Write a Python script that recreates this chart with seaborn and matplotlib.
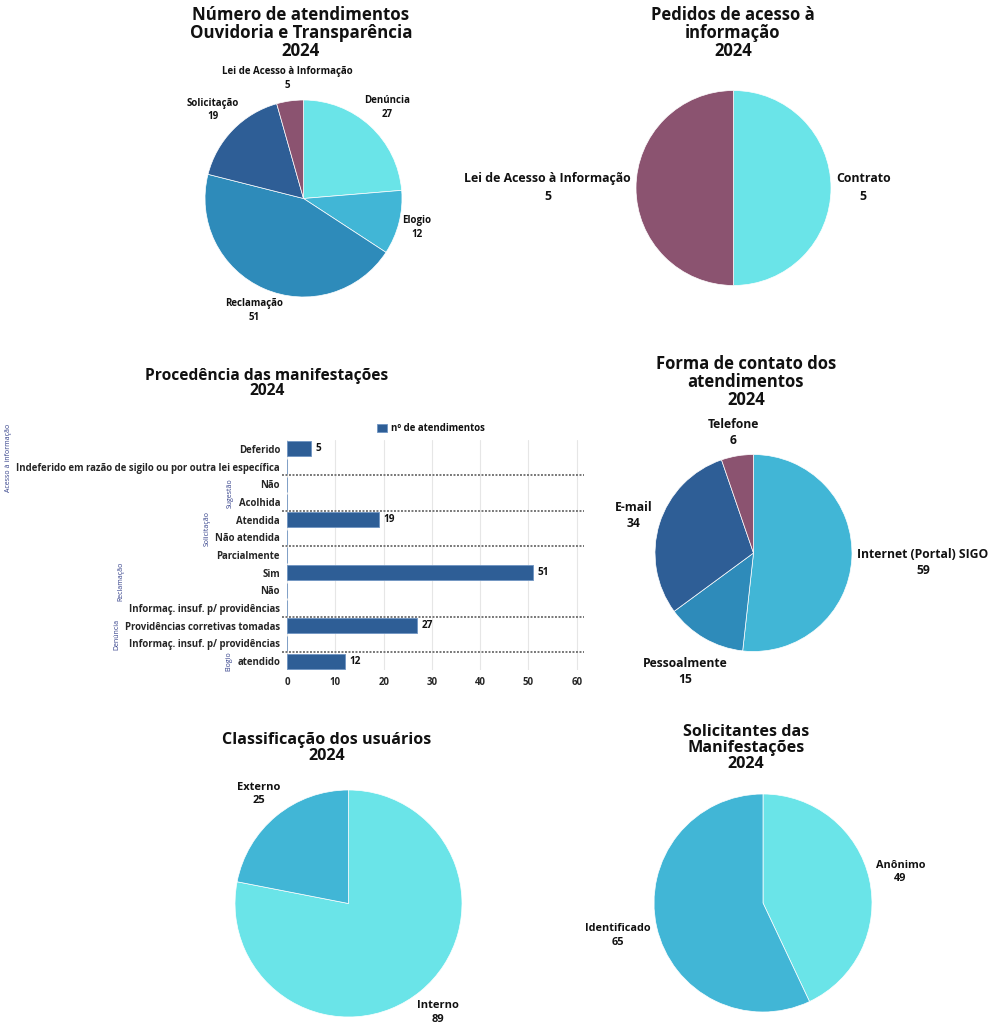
#!/usr/bin/env python3
import numpy as np
import pandas as pd
import matplotlib
matplotlib.use("Agg")
import matplotlib.pyplot as plt
import matplotlib.transforms as mtransforms
import seaborn as sns

W, H = 992, 1024

# --- dados ---
tipo_labels = ["Denúncia", "Elogio", "Reclamação", "Solicitação", "Lei de Acesso à Informação"]
tipo_vals = [27, 12, 51, 19, 5]

pedidos_labels = ["Contrato", "Lei de Acesso à Informação"]
pedidos_vals = [5, 5]

contato_labels = ["Internet (Portal) SIGO", "Pessoalmente", "E-mail", "Telefone"]
contato_vals = [59, 15, 34, 6]

usuarios_labels = ["Interno", "Externo"]
usuarios_vals = [89, 25]

solic_labels = ["Anônimo", "Identificado"]
solic_vals = [49, 65]

proc_grupos = (["Acesso à informação"] * 2 + ["Sugestão"] * 2 + ["Solicitação"] * 2
               + ["Reclamação"] * 4 + ["Denúncia"] * 2 + ["Elogio"])
proc_itens = ["Deferido", "Indeferido em razão de sigilo ou por outra lei específica",
              "Não", "Acolhida", "Atendida", "Não atendida", "Parcialmente", "Sim", "Não",
              "Informaç. insuf. p/ providências", "Providências corretivas tomadas",
              "Informaç. insuf. p/ providências", "atendido"]
proc_vals = [5, 0, 0, 0, 19, 0, 0, 51, 0, 0, 27, 0, 12]

CYAN = "#6ae4e8"
LBLUE = "#41b6d6"
MBLUE = "#2e8bba"
DBLUE = "#2e5e96"
PURPLE = "#8b5370"
GRP = "#33408a"

sns.set_style("white")
plt.rcParams["font.family"] = ["Open Sans", "DejaVu Sans"]
plt.rcParams["text.color"] = "#111111"

fig = plt.figure(figsize=(W / 100, H / 100), dpi=100)


def px_axes(left, top, width, height):
    return fig.add_axes([left / W, 1 - (top + height) / H, width / W, height / H])


def title(x, y, txt, fs=12.0):
    fig.text(x / W, 1 - y / H, txt, ha="center", va="center", multialignment="center",
             fontsize=fs, fontweight="bold", linespacing=0.97)


pies = []


def pie(cx, cy, R, vals, labels, colors, fs, ls=1.4, gap=5):
    ax = px_axes(cx - 2 * R, cy - 2 * R, 4 * R, 4 * R)
    ax.set_facecolor("none")
    wedges, _ = ax.pie(vals, colors=colors, startangle=90, counterclock=False,
                       wedgeprops=dict(edgecolor="white", linewidth=0.5))
    ax.set_xlim(-2, 2)
    ax.set_ylim(-2, 2)
    ax.axis("off")
    texts = [ax.text(0, 0, f"{l}\n{v}", ha="center", va="center", multialignment="center",
                     fontsize=fs, fontweight="bold", linespacing=ls)
             for l, v in zip(labels, vals)]
    pies.append((R, gap, wedges, texts))


pie(303.5, 198.5, 98.5, tipo_vals, tipo_labels, [CYAN, LBLUE, MBLUE, DBLUE, PURPLE], 7.0, 1.35, 1)
title(301, 33, "Número de atendimentos\nOuvidoria e Transparência\n2024", 12.2)

pie(733.5, 188, 97.5, pedidos_vals, pedidos_labels, [CYAN, PURPLE], 8.9, 1.5)
title(733, 33, "Pedidos de acesso à\ninformação\n2024", 12.0)

pie(753.5, 553, 98.5, contato_vals, contato_labels, [LBLUE, MBLUE, DBLUE, PURPLE], 8.7, 1.3)
title(746, 382, "Forma de contato dos\natendimentos\n2024", 12.0)

pie(348.5, 903.5, 113.5, usuarios_vals, usuarios_labels, [CYAN, LBLUE], 8.0, 1.3)
title(327, 748, "Classificação dos usuários\n2024", 11.6)

pie(763, 903, 109, solic_vals, solic_labels, [CYAN, LBLUE], 7.8, 1.3)
title(746, 748, "Solicitantes das\nManifestações\n2024", 11.6)

# --- barras ---
title(267, 383.5, "Procedência das manifestações\n2024", 11.2)
df = pd.DataFrame({"chave": [f"{g}: {i}" for g, i in zip(proc_grupos, proc_itens)],
                   "valor": proc_vals})
bx = px_axes(287, 440, 297, 230)
sns.barplot(data=df, x="valor", y="chave", orient="h", color=DBLUE, saturation=1,
            width=0.86, edgecolor="#6f94c2", linewidth=0.6, label="nº de atendimentos", ax=bx)
bx.set_xlim(0, 61.5)
bx.set_ylim(len(proc_itens) - 0.5, -0.5)
bx.set_xticks(range(0, 61, 10))
bx.set_yticks(range(len(proc_itens)))
bx.set_yticklabels(proc_itens)
bx.set(xlabel="", ylabel="")
bx.tick_params(length=0, labelsize=6.9, pad=5)
for lab in bx.get_xticklabels() + bx.get_yticklabels():
    lab.set_fontweight("bold")
bx.xaxis.grid(True, color="#e6e6e6", linewidth=0.8)
bx.set_axisbelow(True)
sns.despine(ax=bx, left=True, bottom=True)
for c in bx.containers:
    bx.bar_label(c, labels=[f"{p.get_width():.0f}" if p.get_width() > 0 else "" for p in c],
                 padding=3, fontsize=7.2, fontweight="bold")
bx.legend(loc="lower center", bbox_to_anchor=(0.485, 1.0), frameon=False,
          handlelength=1.0, handleheight=1.0, handletextpad=0.5, borderaxespad=0.2,
          prop={"size": 6.9, "weight": "bold"})

# separadores de grupo
grupos = []
for i, g in enumerate(proc_grupos):
    if not grupos or grupos[-1][0] != g:
        grupos.append([g, i, i])
    else:
        grupos[-1][2] = i
for g, a, b in grupos[1:]:
    bx.axhline(a - 0.5, xmin=-0.017, xmax=1.0, color="#777777", linewidth=1.4,
               linestyle=(0, (1, 0.8)), clip_on=False)

# --- posicionar rótulos ---
fig.canvas.draw()
rend = fig.canvas.get_renderer()
for R, gap, wedges, texts in pies:
    for w, t in zip(wedges, texts):
        ang = np.deg2rad((w.theta1 + w.theta2) / 2)
        dx, dy = np.cos(ang), np.sin(ang)
        bb = t.get_window_extent(rend)
        d = R + gap + bb.width / 2 * abs(dx) + bb.height / 2 * abs(dy)
        t.set_position((d * dx / R, d * dy / R))

trans = mtransforms.blended_transform_factory(fig.transFigure, bx.transData)
ticks = bx.get_yticklabels()
for g, a, b in grupos:
    left = min(ticks[i].get_window_extent(rend).x0 for i in range(a, b + 1))
    fig.text((left - 8) / W, (a + b) / 2, g, transform=trans, rotation=90,
             ha="center", va="center", fontsize=5.0, color=GRP)

fig.savefig("out.png", dpi=100)
